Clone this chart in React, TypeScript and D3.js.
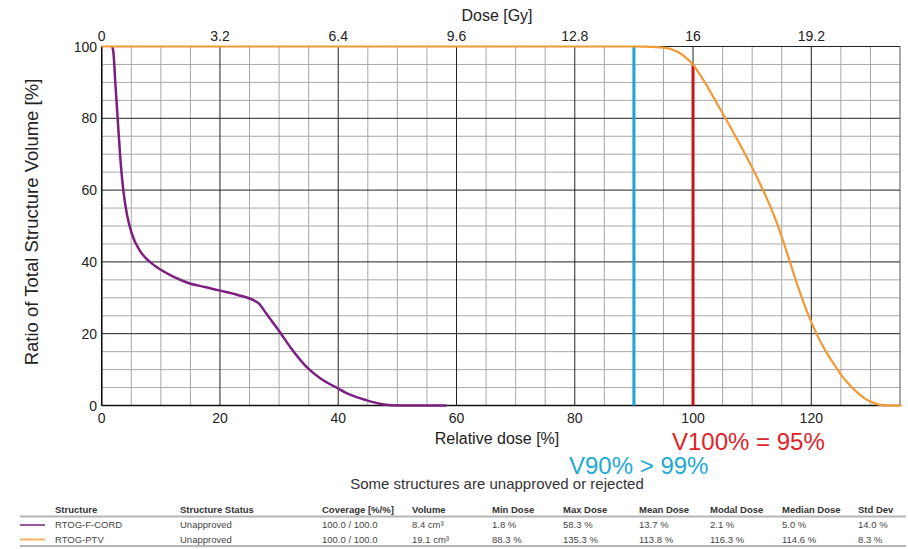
import React from "react";
import * as d3 from "d3";

const cordDose = [1.8, 2.0, 2.3, 2.7, 3.1, 3.65, 4.3, 5.06, 6.5, 8.15, 10, 12.1, 14.9, 17.5, 20, 23, 25.6, 26.5, 27.8, 29, 30.4, 32, 34.6, 37, 39.9, 42, 44.7, 47, 49, 52, 58.3];
const cordVol = [100, 98, 90, 80, 70, 60, 53, 48, 43, 40, 37.8, 35.9, 34.0, 33, 32, 30.8, 29.4, 28.5, 25.7, 23, 19.8, 16, 10.8, 7.5, 4.8, 3, 1.5, 0.5, 0.1, 0, 0];
const ptvDose = [0, 90, 92, 94, 96, 97, 98, 99, 100, 101, 102, 103, 104, 105, 106, 107, 108, 109, 110, 111, 112, 113, 114, 115, 116, 117, 118, 119, 120, 121, 122, 123, 124, 125, 126, 127, 128, 129, 130, 131, 132, 133, 134, 135.3];
const ptvVol = [100, 100, 99.97, 99.8, 99.4, 98.8, 97.9, 96.6, 95, 92.6, 90.0, 87.2, 84.3, 81.4, 78.5, 75.5, 72.5, 69.4, 66.2, 62.9, 59.4, 55.7, 51.6, 47.0, 42.0, 36.8, 31.9, 27.3, 23.3, 19.6, 16.4, 13.6, 11.1, 8.6, 6.6, 4.8, 3.3, 2.0, 1.1, 0.45, 0.12, 0.02, 0, 0];

const relTicks = [0, 20, 40, 60, 80, 100, 120];
const gyTickLabels = ["0", "3.2", "6.4", "9.6", "12.8", "16", "19.2"];
const volTicks = [0, 20, 40, 60, 80, 100];
const v90 = 90;
const v100 = 100;
const v100Vol = 95;

const tableHeaders = ["Structure", "Structure Status", "Coverage [%/%]", "Volume", "Min Dose", "Max Dose", "Mean Dose", "Modal Dose", "Median Dose", "Std Dev"];
const tableRows = [
  ["RTOG-F-CORD", "Unapproved", "100.0 / 100.0", "8.4 cm³", "1.8 %", "58.3 %", "13.7 %", "2.1 %", "5.0 %", "14.0 %"],
  ["RTOG-PTV", "Unapproved", "100.0 / 100.0", "19.1 cm³", "88.3 %", "135.3 %", "113.8 %", "116.3 %", "114.6 %", "8.3 %"],
];
const seriesColors = ["#7d1f80", "#f29a35"];
const colX = [55, 180, 322, 412, 492, 563, 639, 710, 782, 858];

export default function App() {
  const W = 908, H = 549;
  const x = d3.scaleLinear().domain([0, 135]).range([101.7, 900]);
  const y = d3.scaleLinear().domain([0, 100]).range([405.5, 46.5]);
  const line = d3.line<[number, number]>().x(d => x(d[0])).y(d => y(d[1])).curve(d3.curveMonotoneX);
  const cord = cordDose.map((d, i) => [d, cordVol[i]] as [number, number]);
  const ptv = ptvDose.map((d, i) => [d, ptvVol[i]] as [number, number]);
  const minorX = d3.range(5, 135, 5).filter(v => v % 20 !== 0);
  const minorY = d3.range(5, 100, 5).filter(v => v % 20 !== 0);
  const font = "Arial, 'Liberation Sans', sans-serif";
  return (
    <svg width={W} height={H} style={{ position: "absolute", left: 0, top: 0, background: "#fff" }} fontFamily={font}>
      <rect x={0} y={0} width={W} height={H} fill="#fff" />
      {minorX.map(v => <line key={"mx" + v} x1={x(v)} x2={x(v)} y1={y(0)} y2={y(100)} stroke="#a8a8a8" strokeWidth={1} />)}
      {minorY.map(v => <line key={"my" + v} x1={x(0)} x2={x(135)} y1={y(v)} y2={y(v)} stroke="#a8a8a8" strokeWidth={1} />)}
      {relTicks.map(v => <line key={"Mx" + v} x1={x(v)} x2={x(v)} y1={y(0)} y2={y(100)} stroke="#222" strokeWidth={1} />)}
      {volTicks.map(v => <line key={"My" + v} x1={x(0)} x2={x(135)} y1={y(v)} y2={y(v)} stroke="#222" strokeWidth={1} />)}
      <line x1={x(135)} x2={x(135)} y1={y(0)} y2={y(100)} stroke="#555" strokeWidth={1} />
      <line x1={x(0)} x2={x(0)} y1={y(0)} y2={y(100)} stroke="#111" strokeWidth={1.5} />
      <line x1={x(0)} x2={x(135)} y1={y(0)} y2={y(0)} stroke="#111" strokeWidth={1.5} />

      <line x1={x(v90)} x2={x(v90)} y1={y(0)} y2={y(100)} stroke="#1ea3d6" strokeWidth={3} />
      <line x1={x(v100)} x2={x(v100)} y1={y(0)} y2={y(v100Vol)} stroke="#c8161b" strokeWidth={3} />

      <path d={line(cord) || ""} fill="none" stroke={seriesColors[0]} strokeWidth={2.5} />
      <path d={line(ptv) || ""} fill="none" stroke={seriesColors[1]} strokeWidth={2.2} />

      {relTicks.map((v, i) => (
        <text key={"tg" + v} x={x(v)} y={41} fontSize={14} fill="#222" textAnchor="middle">{gyTickLabels[i]}</text>
      ))}
      <text x={497} y={21} fontSize={16} fill="#222" textAnchor="middle">Dose [Gy]</text>
      {relTicks.map(v => (
        <text key={"tb" + v} x={x(v)} y={423} fontSize={14} fill="#222" textAnchor="middle">{v}</text>
      ))}
      <text x={497} y={444} fontSize={16} fill="#222" textAnchor="middle">Relative dose [%]</text>
      {volTicks.map(v => (
        <text key={"ty" + v} x={97} y={y(v) + 5} fontSize={14} fill="#222" textAnchor="end">{v}</text>
      ))}
      <text transform="translate(38,222) rotate(-90)" fontSize={18.5} fill="#222" textAnchor="middle">Ratio of Total Structure Volume [%]</text>

      <text x={672} y={450} fontSize={24} fill="#e0232a">V100% = 95%</text>
      <text x={569} y={474} fontSize={24} fill="#23a9d6">V90% &gt; 99%</text>
      <text x={497} y={489} fontSize={15} fill="#333" textAnchor="middle">Some structures are unapproved or rejected</text>

      {tableHeaders.map((h, i) => (
        <text key={"h" + i} x={colX[i]} y={513} fontSize={9.5} fontWeight="bold" fill="#333">{h}</text>
      ))}
      <line x1={20} x2={906} y1={516.5} y2={516.5} stroke="#b5b5b5" strokeWidth={2} />
      {tableRows.map((r, ri) => (
        <g key={"r" + ri}>
          <line x1={20} x2={45} y1={525 + ri * 14.5} y2={525 + ri * 14.5} stroke={seriesColors[ri]} strokeWidth={2} opacity={0.75} />
          {r.map((c, ci) => (
            <text key={"c" + ci} x={colX[ci]} y={528 + ri * 15} fontSize={9.5} fill="#444">{c}</text>
          ))}
        </g>
      ))}
      <line x1={20} x2={906} y1={546} y2={546} stroke="#b5b5b5" strokeWidth={2} />
    </svg>
  );
}
